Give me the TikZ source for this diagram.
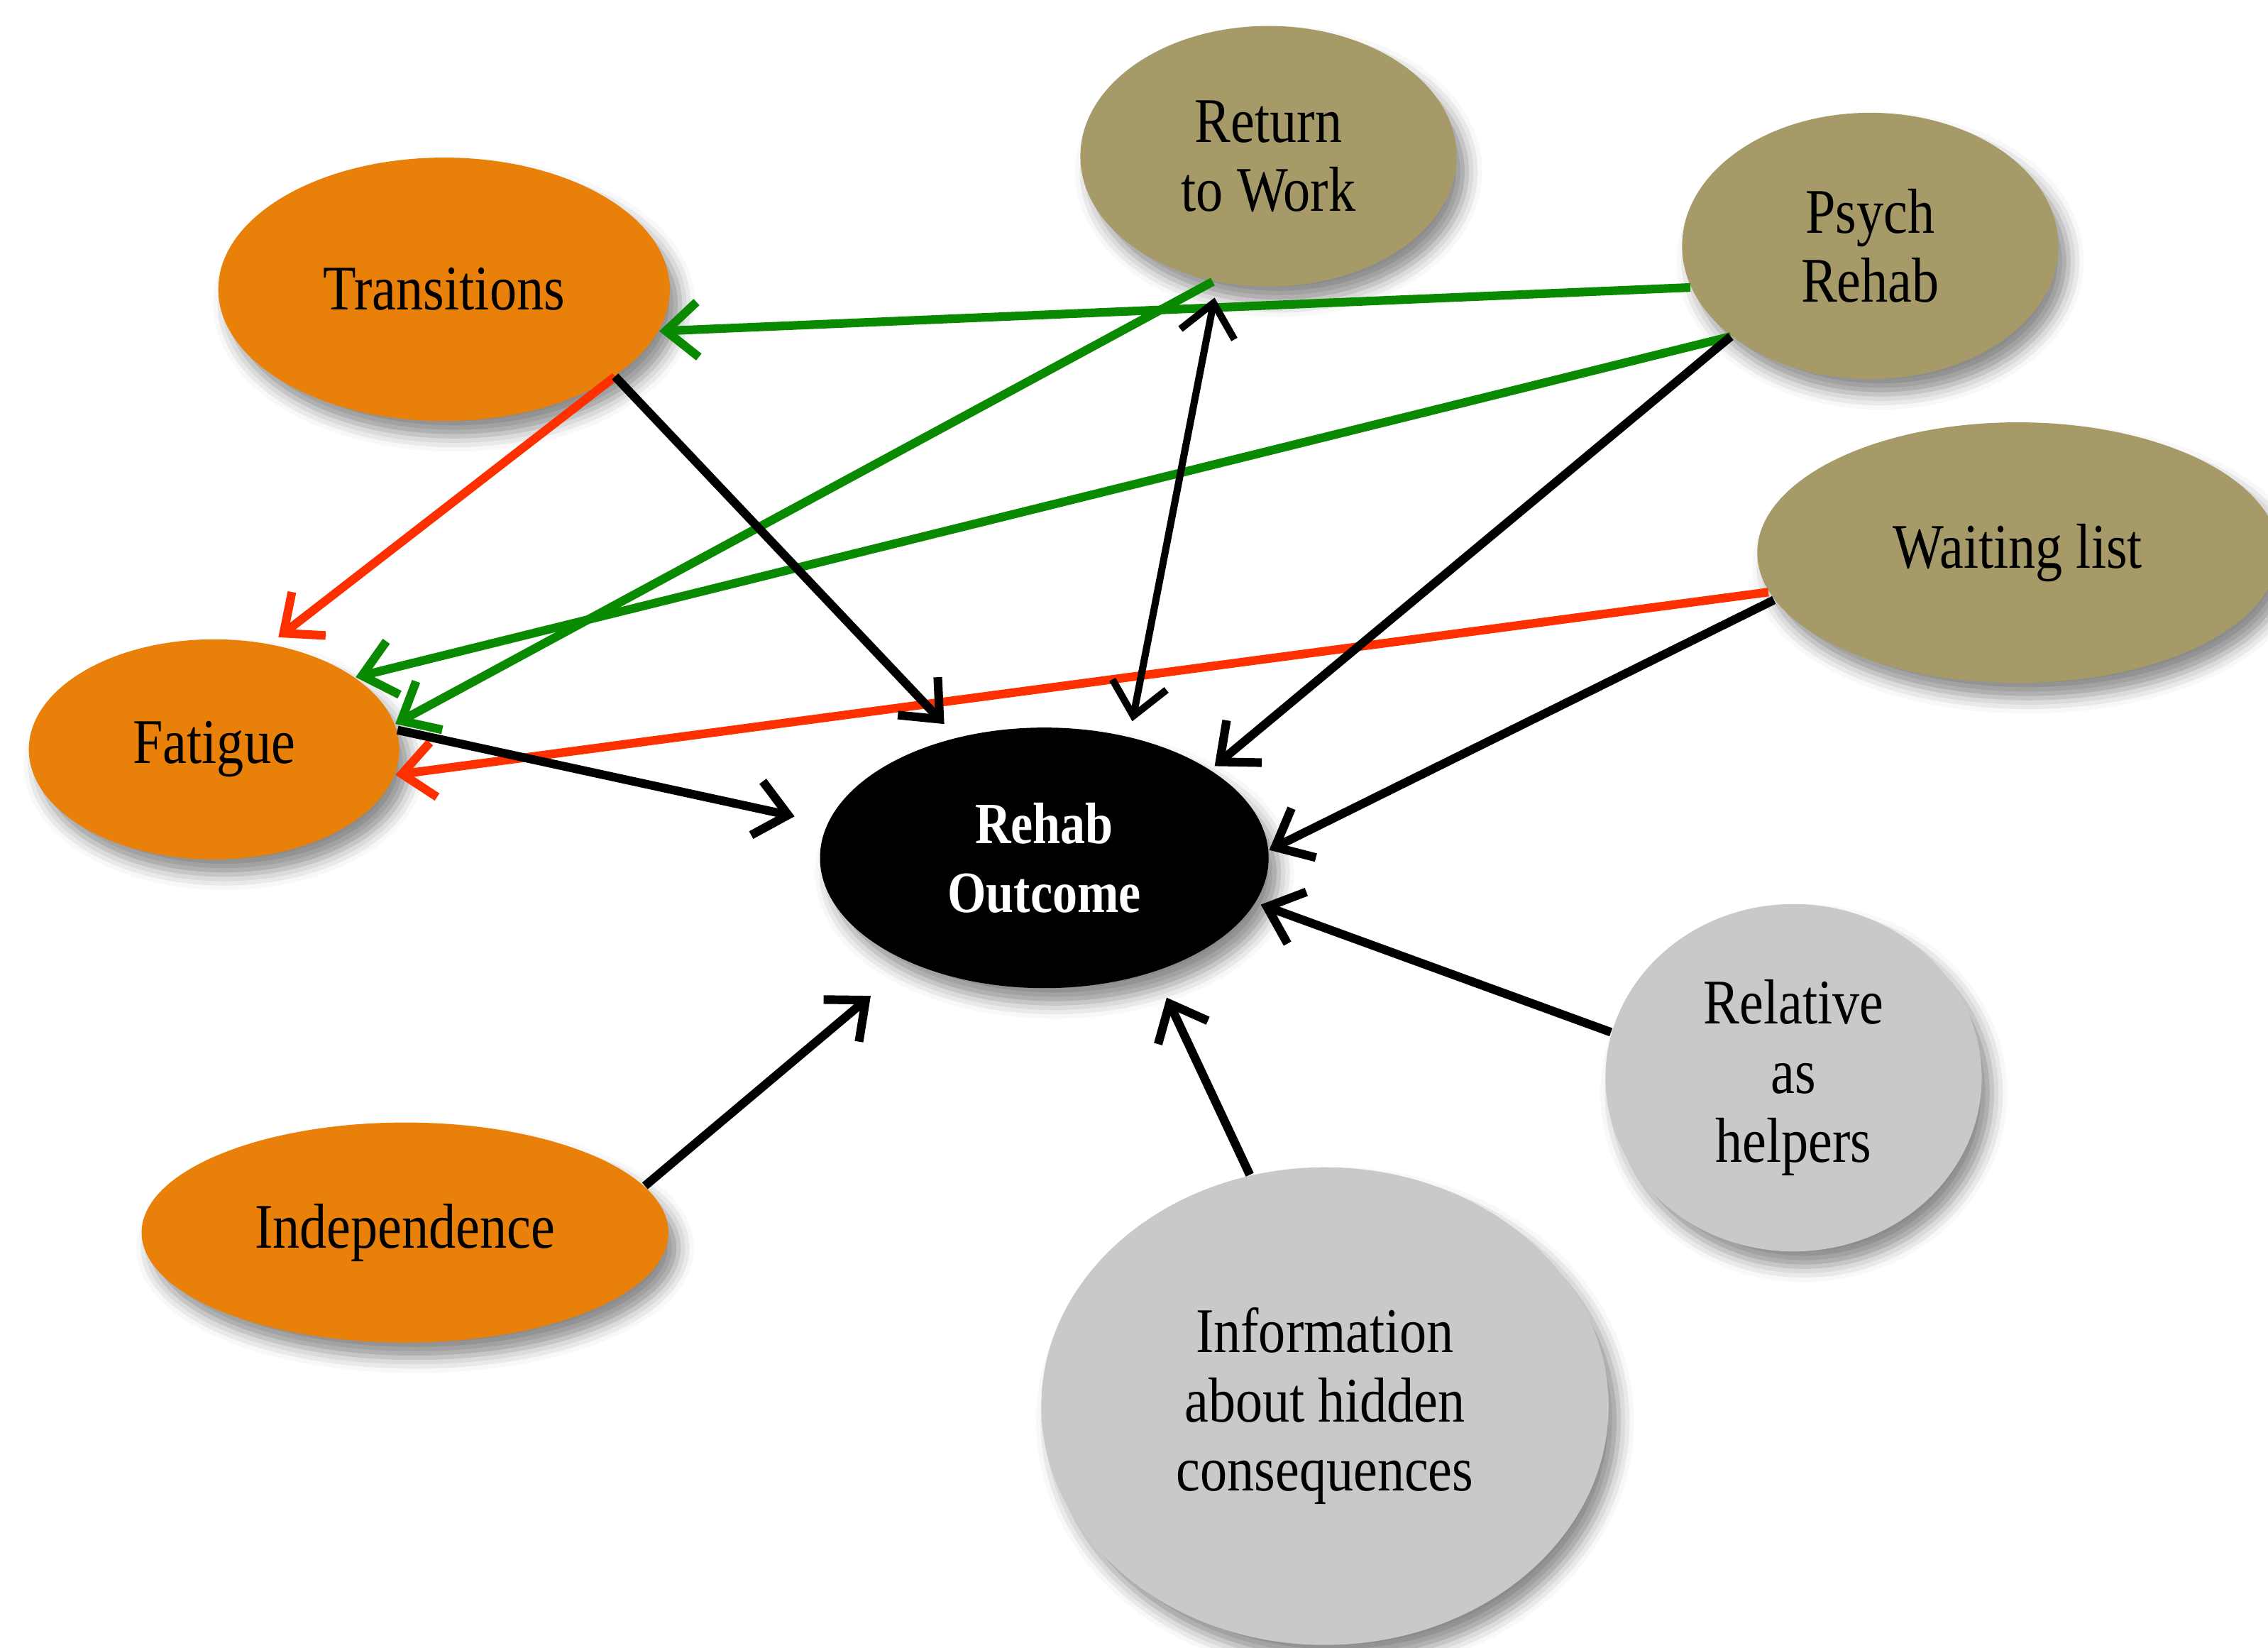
\documentclass[tikz,border=0pt]{standalone}
\usepackage{fontspec}
\setmainfont{Liberation Serif}[FakeStretch=0.85]
\usetikzlibrary{shapes.geometric, shadows.blur, arrows.meta}
\definecolor{nodeOrange}{RGB}{233,128,10}
\definecolor{nodeOlive}{RGB}{166,154,104}
\definecolor{nodeGrey}{RGB}{201,201,201}
\definecolor{arrowGreen}{RGB}{10,138,0}
\definecolor{arrowRed}{RGB}{255,48,0}
\tikzset{
ellipsestyle/.style={ellipse, inner sep=0pt, align=center,
  font=\fontsize{12.5}{13.6}\selectfont,
  blur shadow={shadow xshift=2pt, shadow yshift=-3pt, shadow blur radius=3pt, shadow opacity=45}},
orangestyle/.style={ellipsestyle, fill=nodeOrange},
olivestyle/.style={ellipsestyle, fill=nodeOlive},
greystyle/.style={ellipsestyle, fill=nodeGrey},
outcomestyle/.style={ellipsestyle, fill=black, text=white, font=\fontsize{11.5}{13.6}\selectfont\bfseries},
arrowstyle/.style={line width=1.7pt, -{Straight Barb[length=2.2mm, width=3.8mm]}}
}

\begin{document}
\begin{tikzpicture}[x=0.01cm, y=-0.01cm]
\useasboundingbox (0,0) rectangle (1568,1139);

\node [olivestyle, minimum width=2.6cm, minimum height=1.8cm] (work) at (877,108) {Return\\to Work};
\node [olivestyle, minimum width=2.6cm, minimum height=1.84cm] (psych) at (1293,170) {Psych\\Rehab};
\node [olivestyle, minimum width=3.6cm, minimum height=1.8cm] (wait) at (1395,382) {Waiting list};
\node [orangestyle, minimum width=3.12cm, minimum height=1.82cm] (trans) at (307,200) {Transitions};
\node [orangestyle, minimum width=2.56cm, minimum height=1.52cm] (fat) at (148,518) {Fatigue};
\node [outcomestyle, minimum width=3.1cm, minimum height=1.8cm] (out) at (722,593) {Rehab\\Outcome};
\node [orangestyle, minimum width=3.64cm, minimum height=1.52cm] (indep) at (280,852) {Independence};
\node [greystyle, minimum width=2.6cm, minimum height=2.4cm] (rel) at (1240,745) {Relative\\as\\helpers};
\node [greystyle, minimum width=3.92cm, minimum height=3.3cm] (info) at (916,972) {Information\\about hidden\\consequences};

% green
\draw [arrowstyle, arrowGreen] (psych.193.7) -- (trans.-11);
\draw [arrowstyle, arrowGreen] (work.246) -- (fat.8.5);
\draw [arrowstyle, arrowGreen] (psych.213) -- (fat.27);

% red
\draw [arrowstyle, arrowRed, shorten >=2pt] (trans.-27.6) -- (fat.62);
\draw [arrowstyle, arrowRed] (wait.189.5) -- (fat.-8);

% black
\draw [arrowstyle, shorten >=3.5pt] (trans.-27.6) -- (out.126);
\draw [arrowstyle, shorten >=6.5pt] (fat.6) -- (out.171);
\draw [arrowstyle, {Straight Barb[length=2.2mm, width=3.8mm]}-{Straight Barb[length=2.2mm, width=3.8mm]}, line width=1.4pt, shorten >=3pt, shorten <=3pt] (out.55) -- (work.248);
\draw [arrowstyle, shorten >=1pt] (psych.213) -- (out.28);
\draw [arrowstyle] (wait.191) -- (out.2);
\draw [arrowstyle, shorten >=1pt] (rel.166) -- (out.-12);
\draw [arrowstyle, shorten >=5.5pt] (info.108) -- (out.-46.5);
\draw [arrowstyle, shorten >=10pt] (indep.11.8) -- (out.218);
\end{tikzpicture}
\end{document}
